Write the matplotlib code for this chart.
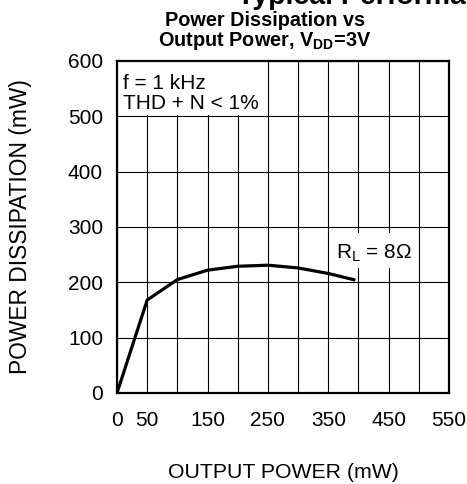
import numpy as np
import matplotlib
matplotlib.use("Agg")
import matplotlib.pyplot as plt
from matplotlib.patches import Rectangle

plt.rcParams['font.family'] = ['Liberation Sans', 'DejaVu Sans']

# curve (RL = 8 ohm)
potencia_saida = [0, 50, 100, 150, 200, 250, 300, 350, 395]
dissipacao = [0, 168, 205, 222, 229, 231, 226, 216, 204]

xticks_rot = [0, 50, 150, 250, 350, 450, 550]
xgrid = [100, 200, 300, 400, 500]
yticks = [0, 100, 200, 300, 400, 500, 600]

fig = plt.figure(figsize=(4.67, 4.84), dpi=100)
ax = fig.add_axes([117/467, 1 - 393/484, 332/467, 332/484])

ax.plot(potencia_saida, dissipacao, color='black', lw=2.3, zorder=3,
        solid_capstyle='butt', solid_joinstyle='miter')

ax.set_xlim(0, 550)
ax.set_ylim(0, 600)
ax.set_xticks(xticks_rot)
ax.set_xticks(xgrid, minor=True)
ax.set_yticks(yticks)
ax.grid(True, which='both', color='black', lw=0.8, zorder=1)
ax.set_axisbelow(True)
ax.tick_params(which='both', length=0)
ax.tick_params(axis='x', pad=13, labelsize=15)
ax.tick_params(axis='y', pad=10, labelsize=15)
for s in ax.spines.values():
    s.set_linewidth(1.6)
    s.set_zorder(4)

# blank areas behind the annotations
ax.add_patch(Rectangle((0, 502), 248, 98, fc='white', ec='none', zorder=2))
ax.add_patch(Rectangle((362, 226), 133, 63, fc='white', ec='none', zorder=2))

ax.text(10, 513, "f = 1 kHz\nTHD + N < 1%", fontsize=15, va='baseline',
        ha='left', linespacing=1.1, zorder=5)
ax.text(363, 244, r"R$_\mathregular{L}$ = 8Ω", fontsize=15, va='baseline',
        ha='left', zorder=5)

ax.set_xlabel("OUTPUT POWER (mW)", fontsize=15.3, labelpad=24)
ax.set_ylabel("POWER DISSIPATION (mW)", fontsize=16.4, labelpad=26)

fig.text(265/467, 1 - 26.5/484, "Power Dissipation vs", ha='center',
         va='baseline', fontsize=14.3, fontweight='bold')
fig.text(265/467, 1 - 46.5/484, r"Output Power, V$_\mathregular{DD}$=3V",
         ha='center', va='baseline', fontsize=14.3, fontweight='bold')
fig.text(237/467, 1 - 4/484, "Typical Performance Characteristics",
         ha='left', va='baseline', fontsize=20.5, fontweight='bold')

plt.savefig("out.png", dpi=100)
